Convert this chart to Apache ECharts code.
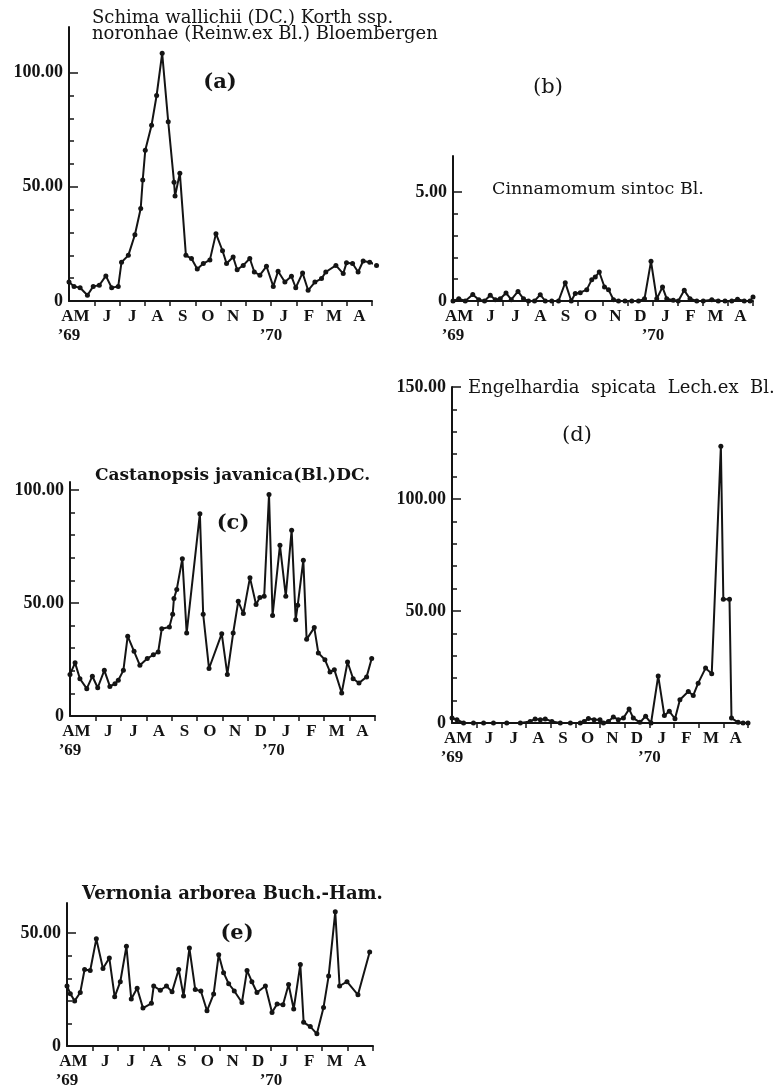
<!DOCTYPE html>
<html>
<head>
<meta charset="utf-8">
<script src="https://cdn.jsdelivr.net/npm/echarts@6/dist/echarts.min.js"></script>
<style>
  html, body { margin: 0; background: #fff; }
  #main { width: 779px; height: 1089px; }
</style>
</head>
<body>
<div id="main"></div>
<script>
// month bands along every x axis (x is in months since end of April '69)
const monthLabels = ['AM', 'J', 'J', 'A', 'S', 'O', 'N', 'D', 'J', 'F', 'M', 'A'];
const monthLabelPos = [0.25, 1.5, 2.5, 3.5, 4.5, 5.5, 6.5, 7.5, 8.5, 9.5, 10.5, 11.5];
const monthTicks = [1, 2, 3, 4, 5, 6, 7, 8, 9, 10, 11, 12];
const yearLabels = ['’69', '’70'];
const yearPos = [0, 8];

// (a) Schima wallichii
const aX = [0,0.2,0.44,0.73,0.96,1.2,1.46,1.69,1.95,2.08,2.35,2.61,2.84,2.92,3.02,3.27,3.47,3.69,3.93,4.16,4.2,4.39,4.63,4.85,5.08,5.32,5.58,5.82,6.08,6.24,6.5,6.66,6.9,7.16,7.34,7.56,7.82,8.09,8.28,8.55,8.81,8.98,9.25,9.47,9.74,10,10.17,10.57,10.86,10.99,11.23,11.45,11.65,11.91,12.18];
const aY = [8.3,6.4,5.8,2.5,6.4,6.9,11,5.8,6.4,17,20,29,40.5,53,66,77,90,108.5,78.5,52,46,56,20,18.6,14,16.4,18,29.5,22,16.4,19.3,13.7,15.6,18.6,12.7,11.3,15.2,6.4,13,8.3,10.8,5.8,12.3,4.7,8.3,9.8,12.7,15.6,12,16.7,16.4,12.7,17.5,17,15.6];

// (b) Cinnamomum sintoc
const bX = [0,0.23,0.49,0.79,1.03,1.26,1.49,1.69,1.89,2.12,2.33,2.6,2.82,3.02,3.26,3.49,3.69,3.95,4.22,4.49,4.73,4.89,5.09,5.35,5.55,5.69,5.85,6.06,6.22,6.42,6.62,6.88,7.15,7.42,7.66,7.92,8.15,8.38,8.55,8.81,9.01,9.25,9.48,9.75,10.01,10.35,10.61,10.88,11.15,11.38,11.65,11.88,12];
const bY = [0,0.1,0,0.3,0.06,0,0.26,0.06,0.1,0.37,0.06,0.44,0.1,0,0,0.29,0,0,0,0.84,0,0.34,0.38,0.52,0.98,1.1,1.33,0.64,0.52,0.06,0,0,0,0,0.1,1.82,0.1,0.64,0.1,0.03,0,0.49,0.1,0,0,0.06,0,0,0,0.08,0,0,0.18];

// (c) Castanopsis javanica
const cX = [0,0.2,0.39,0.66,0.88,1.09,1.35,1.57,1.77,1.9,2.1,2.27,2.52,2.75,3.04,3.28,3.47,3.61,3.91,4.04,4.09,4.2,4.42,4.59,5.11,5.24,5.47,5.97,6.19,6.42,6.62,6.82,7.08,7.32,7.47,7.64,7.83,7.97,8.26,8.49,8.72,8.88,8.96,9.18,9.31,9.61,9.77,10.03,10.23,10.4,10.69,10.92,11.14,11.37,11.67,11.87];
const cY = [18.4,23.5,16.5,12.1,17.6,12.5,20.2,13.1,14.3,15.8,20.2,35.3,28.6,22.4,25.4,27.1,28.3,38.6,39.4,45,52,56,69.6,36.7,89.5,45,21,36.4,18.4,36.7,50.7,45.3,61.2,49.3,52.4,53,98,44.5,75.5,53,82.2,42.6,49,68.9,33.9,39.1,27.9,24.9,19.5,20.5,10.2,23.9,16.5,14.6,17.3,25.4];

// (d) Engelhardia spicata
const dX = [0,0.2,0.47,0.87,1.28,1.68,2.22,2.77,3.17,3.37,3.58,3.78,4.05,4.39,4.8,5.2,5.36,5.53,5.76,6.0,6.14,6.34,6.54,6.74,6.95,7.18,7.35,7.62,7.85,8.07,8.36,8.61,8.81,9.04,9.24,9.58,9.78,9.98,10.28,10.53,10.9,11.0,11.25,11.33,11.6,11.8,12];
const dY = [2.2,1.5,0,0,0,0,0,0,0.7,1.8,1.5,1.8,0.7,0,0,0,0.7,2,1.5,1.5,0,0.7,2.7,1.5,2.2,6.2,2.2,0.3,3,0,21,3.3,5.2,1.9,10.4,14.1,12.3,17.8,24.5,22,123.5,55.2,55.2,2.2,0.3,0,0];

// (e) Vernonia arborea
const eX = [0,0.13,0.3,0.52,0.69,0.91,1.15,1.41,1.66,1.87,2.09,2.33,2.52,2.75,2.98,3.31,3.4,3.66,3.9,4.12,4.38,4.57,4.8,5.03,5.25,5.49,5.75,5.95,6.14,6.34,6.56,6.86,7.06,7.25,7.45,7.78,8.04,8.24,8.47,8.69,8.89,9.15,9.28,9.54,9.8,10.06,10.26,10.52,10.69,10.98,11.41,11.87];
const eY = [26.6,23.2,20,23.7,33.9,33.5,47.5,34.4,39,21.8,28.5,44.2,20.8,25.6,16.8,18.9,26.6,24.7,26.6,24,33.9,22.2,43.4,25,24.4,15.6,23,40.5,32.5,27.6,24.4,19.3,33.5,28.5,23.7,26.6,14.9,18.6,18.3,27.3,16.4,36.1,10.5,8.6,5.4,17.1,31,59.5,26.6,28.5,22.7,41.7];

const ink = '#141414';
const tickFont = 'Liberation Serif';

// layout of each panel: grid box, y range, labelled/major/minor ticks
const panels = [
  { xs: aX, ys: aY, box: [69, 27, 303, 274], max: 120, labels: [0, 50, 100], major: [50, 100], minor: [10, 20, 30, 40, 60, 70, 80, 90] },
  { xs: bX, ys: bY, box: [453, 156, 300, 145], max: 6.65, labels: [0, 5], major: [5], minor: [1, 2, 3, 4] },
  { xs: cX, ys: cY, box: [70, 482, 305, 234], max: 103.5, labels: [0, 50, 100], major: [50, 100], minor: [10, 20, 30, 40, 60, 70, 80, 90] },
  { xs: dX, ys: dY, box: [452, 387, 296, 336], max: 150, labels: [0, 50, 100, 150], major: [50, 100, 150], minor: [10, 20, 30, 40, 60, 70, 80, 90, 110, 120, 130, 140] },
  { xs: eX, ys: eY, box: [67, 903, 306, 144.5], max: 63.4, labels: [0, 50], major: [50], minor: [10, 20, 30, 40] }
];

const grid = [], xAxis = [], yAxis = [], series = [];
panels.forEach((p, i) => {
  grid.push({ left: p.box[0], top: p.box[1], width: p.box[2], height: p.box[3] });
  xAxis.push({
    type: 'value', gridIndex: i, min: 0, max: 12, position: 'bottom',
    axisLine: { lineStyle: { color: ink, width: 2 } },
    axisTick: { customValues: monthTicks, length: 5, lineStyle: { color: ink, width: 1.5 } },
    axisLabel: {
      customValues: monthLabelPos, formatter: v => monthLabels[Math.floor(v)],
      margin: 7, color: ink, fontFamily: tickFont, fontWeight: 'bold', fontSize: 17
    },
    splitLine: { show: false }
  });
  xAxis.push({
    type: 'value', gridIndex: i, min: 0, max: 12, position: 'bottom',
    axisLine: { show: false }, axisTick: { show: false },
    axisLabel: {
      customValues: yearPos, formatter: v => yearLabels[v === 0 ? 0 : 1],
      margin: 26, color: ink, fontFamily: tickFont, fontWeight: 'bold', fontSize: 17
    },
    splitLine: { show: false }
  });
  yAxis.push({
    type: 'value', gridIndex: i, min: 0, max: p.max, position: 'left',
    axisLine: { show: true, lineStyle: { color: ink, width: 2 } },
    axisTick: { show: true, inside: true, customValues: p.minor, length: 5, lineStyle: { color: ink, width: 1.5 } },
    axisLabel: {
      customValues: p.labels, formatter: v => v === 0 ? '0' : v.toFixed(2),
      margin: 6, color: ink, fontFamily: tickFont, fontWeight: 'bold', fontSize: 18
    },
    splitLine: { show: false }
  });
  yAxis.push({
    type: 'value', gridIndex: i, min: 0, max: p.max, position: 'left',
    axisLine: { show: false },
    axisTick: { show: true, inside: true, customValues: p.major, length: 9, lineStyle: { color: ink, width: 1.5 } },
    axisLabel: { show: false },
    splitLine: { show: false }
  });
  series.push({
    type: 'line', xAxisIndex: 2 * i, yAxisIndex: 2 * i,
    data: p.xs.map((x, k) => [x, p.ys[k]]),
    symbol: 'circle', symbolSize: 5, clip: false,
    lineStyle: { color: ink, width: 2 },
    itemStyle: { color: ink }
  });
});

function label(text, x, y, font, align) {
  return {
    type: 'text', x: x, y: y, silent: true,
    style: { text: text, font: font, fill: ink, textAlign: align || 'left', textVerticalAlign: 'middle' }
  };
}
const titleFont = '18px "DejaVu Serif"';

const chart = echarts.init(document.getElementById('main'));
chart.setOption({
  animation: false,
  backgroundColor: '#fff',
  grid: grid,
  xAxis: xAxis,
  yAxis: yAxis,
  series: series,
  graphic: [
    label('Schima wallichii (DC.) Korth ssp.', 92, 18, titleFont),
    label('noronhae (Reinw.ex Bl.) Bloembergen', 92, 34, titleFont),
    label('(a)', 220, 83, 'bold 21px "DejaVu Serif"', 'center'),
    label('(b)', 548, 88, '21px "DejaVu Serif"', 'center'),
    label('Cinnamomum sintoc Bl.', 492, 189, '17.5px "DejaVu Serif"'),
    label('Castanopsis javanica(Bl.)DC.', 95, 476, 'bold 17px "DejaVu Serif"'),
    label('(c)', 233, 524, 'bold 21px "DejaVu Serif"', 'center'),
    label('Engelhardia  spicata  Lech.ex  Bl.', 468, 388, titleFont),
    label('(d)', 577, 436, '21px "DejaVu Serif"', 'center'),
    label('Vernonia arborea Buch.-Ham.', 82, 894, 'bold 18px "DejaVu Serif"'),
    label('(e)', 237, 934, 'bold 21px "DejaVu Serif"', 'center')
  ]
});
</script>
</body>
</html>
